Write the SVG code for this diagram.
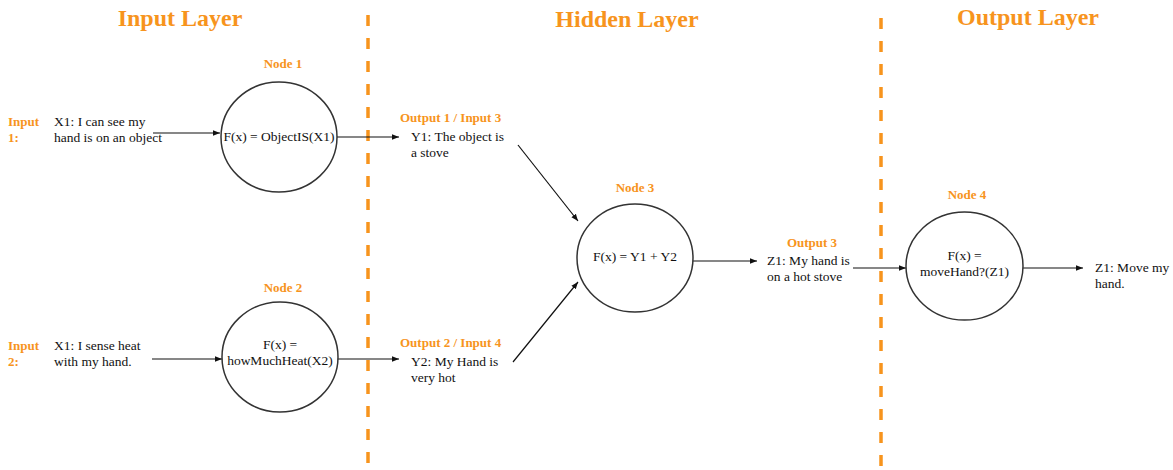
<svg xmlns="http://www.w3.org/2000/svg" width="1173" height="470" viewBox="0 0 1173 470">
<style>
.title{font-family:"Liberation Serif",serif;font-weight:bold;font-size:24px;fill:#F7941D;text-anchor:middle}
.lbl{font-family:"Liberation Serif",serif;font-weight:bold;font-size:13px;fill:#F7941D}
.mid{text-anchor:middle}
.txt{font-family:"Liberation Serif",serif;font-size:13.5px;fill:#111}
.node{fill:#fff;stroke:#333;stroke-width:1.5}
.div{stroke:#F7941D;stroke-width:3.5;stroke-dasharray:11 12;fill:none}
.arr{stroke:#111;stroke-width:1.2;fill:none;marker-end:url(#ah)}
</style>
<defs>
<marker id="ah" viewBox="0 0 10 10" refX="10" refY="5" markerWidth="7" markerHeight="7" markerUnits="userSpaceOnUse" orient="auto">
<path d="M0,1 L10,5 L0,9 Z" fill="#111"/>
</marker>
</defs>
<rect width="1173" height="470" fill="#fff"/>
<g id="dividers">
<line class="div" x1="368" y1="15" x2="368" y2="470"/>
<line class="div" x1="881" y1="18" x2="881" y2="470"/>
</g>
<g id="titles">
<text class="title" x="180" y="26">Input Layer</text>
<text class="title" x="627" y="27">Hidden Layer</text>
<text class="title" x="1028" y="25">Output Layer</text>
</g>
<g id="connectors">
<line class="arr" x1="153" y1="133" x2="220" y2="133"/>
<line class="arr" x1="337" y1="137" x2="399" y2="137"/>
<line class="arr" x1="518" y1="145" x2="578" y2="221"/>
<line class="arr" x1="513" y1="362" x2="578" y2="282"/>
<line class="arr" x1="152" y1="359" x2="222" y2="359"/>
<line class="arr" x1="337" y1="359" x2="399" y2="359"/>
<line class="arr" x1="693" y1="261" x2="757" y2="261"/>
<line class="arr" x1="853" y1="268" x2="906" y2="268"/>
<line class="arr" x1="1023" y1="268" x2="1083" y2="268"/>
</g>
<g id="input1">
<text class="lbl" x="8" y="126">Input</text>
<text class="lbl" x="8" y="142">1:</text>
<text class="txt" x="54" y="126">X1: I can see my</text>
<text class="txt" x="54" y="142">hand is on an object</text>
</g>
<g id="input2">
<text class="lbl" x="8" y="350">Input</text>
<text class="lbl" x="8" y="366">2:</text>
<text class="txt" x="54" y="350">X1: I sense heat</text>
<text class="txt" x="54" y="366">with my hand.</text>
</g>
<g id="node1">
<text class="lbl mid" x="283" y="68">Node 1</text>
<ellipse class="node" cx="279" cy="137" rx="58" ry="55"/>
<text class="txt mid" x="279" y="141">F(x) = ObjectIS(X1)</text>
</g>
<g id="node2">
<text class="lbl mid" x="283" y="292">Node 2</text>
<ellipse class="node" cx="280" cy="357" rx="58" ry="55"/>
<text class="txt mid" x="280" y="349">F(x) =</text>
<text class="txt mid" x="280" y="365">howMuchHeat(X2)</text>
</g>
<g id="output1">
<text class="lbl" x="400" y="122">Output 1 / Input 3</text>
<text class="txt" x="411" y="141">Y1: The object is</text>
<text class="txt" x="411" y="157">a stove</text>
</g>
<g id="output2">
<text class="lbl" x="400" y="347">Output 2 / Input 4</text>
<text class="txt" x="411" y="366">Y2: My Hand is</text>
<text class="txt" x="411" y="382">very hot</text>
</g>
<g id="node3">
<text class="lbl mid" x="635" y="192">Node 3</text>
<ellipse class="node" cx="635" cy="258" rx="58" ry="54"/>
<text class="txt mid" x="635" y="261">F(x) = Y1 + Y2</text>
</g>
<g id="output3">
<text class="lbl mid" x="812" y="247">Output 3</text>
<text class="txt" x="767" y="265">Z1: My hand is</text>
<text class="txt" x="767" y="281">on a hot stove</text>
</g>
<g id="node4">
<text class="lbl mid" x="967" y="199">Node 4</text>
<ellipse class="node" cx="964.5" cy="266" rx="58.5" ry="54"/>
<text class="txt mid" x="964.5" y="260">F(x) =</text>
<text class="txt mid" x="964.5" y="276">moveHand?(Z1)</text>
</g>
<g id="output4">
<text class="txt" x="1095" y="272">Z1: Move my</text>
<text class="txt" x="1095" y="288">hand.</text>
</g>
</svg>
